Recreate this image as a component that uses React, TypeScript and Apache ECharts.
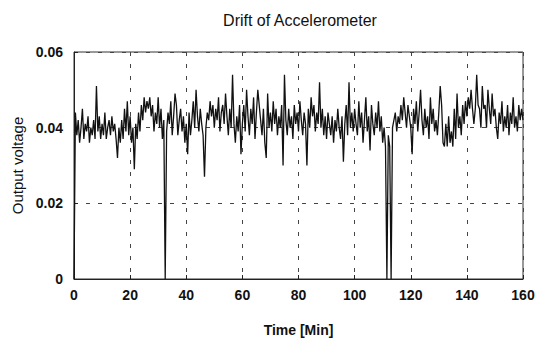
import React, { useEffect, useRef } from "react";
import * as echarts from "echarts";

const title = "Drift of Accelerometer";
const xName = "Time [Min]";
const yName = "Output voltage";
const xTicks = [0, 20, 40, 60, 80, 100, 120, 140, 160];
const yTicks = [0, 0.02, 0.04, 0.06];
const timeStep = 0.5; // minutes between samples

const voltage0to10 = [0, 0.044, 0.038, 0.042, 0.036, 0.040, 0.045, 0.037, 0.041, 0.039, 0.043, 0.036, 0.040, 0.038, 0.042, 0.037, 0.051, 0.039, 0.043, 0.037];
const voltage10to20 = [0.041, 0.038, 0.044, 0.037, 0.040, 0.042, 0.038, 0.043, 0.039, 0.041, 0.037, 0.032, 0.040, 0.036, 0.042, 0.037, 0.045, 0.039, 0.047, 0.038];
const voltage20to30 = [0.043, 0.036, 0.040, 0.029, 0.041, 0.037, 0.044, 0.039, 0.046, 0.042, 0.048, 0.044, 0.047, 0.045, 0.048, 0.043, 0.046, 0.039, 0.044, 0.041];
const voltage30to40 = [0.048, 0.040, 0.045, 0.037, 0.042, 0, 0.039, 0.044, 0.041, 0.047, 0.038, 0.043, 0.049, 0.046, 0.038, 0.042, 0.045, 0.039, 0.043, 0.036];
const voltage40to50 = [0.041, 0.033, 0.044, 0.038, 0.042, 0.047, 0.040, 0.050, 0.043, 0.039, 0.045, 0.041, 0.038, 0.027, 0.040, 0.044, 0.042, 0.047, 0.043, 0.046];
const voltage50to60 = [0.040, 0.045, 0.042, 0.048, 0.039, 0.044, 0.046, 0.041, 0.049, 0.043, 0.038, 0.045, 0.040, 0.054, 0.041, 0.036, 0.043, 0.039, 0.046, 0.033];
const voltage60to70 = [0.041, 0.046, 0.039, 0.050, 0.043, 0.038, 0.045, 0.041, 0.048, 0.037, 0.044, 0.050, 0.046, 0.042, 0.038, 0.045, 0.036, 0.032, 0.049, 0.040];
const voltage70to80 = [0.044, 0.039, 0.047, 0.041, 0.045, 0.038, 0.043, 0.040, 0.046, 0.030, 0.054, 0.042, 0.038, 0.045, 0.040, 0.043, 0.037, 0.046, 0.041, 0.044];
const voltage80to90 = [0.039, 0.047, 0.042, 0.038, 0.044, 0.041, 0.030, 0.045, 0.040, 0.048, 0.043, 0.046, 0.039, 0.044, 0.041, 0.052, 0.040, 0.045, 0.038, 0.043];
const voltage90to100 = [0.037, 0.044, 0.041, 0.038, 0.043, 0.036, 0.042, 0.039, 0.045, 0.040, 0.037, 0.043, 0.031, 0.041, 0.046, 0.038, 0.052, 0.040, 0.044, 0.039];
const voltage100to110 = [0.045, 0.041, 0.038, 0.047, 0.040, 0.044, 0.036, 0.042, 0.048, 0.039, 0.043, 0.034, 0.046, 0.041, 0.038, 0.044, 0.040, 0.047, 0.039, 0.043];
const voltage110to120 = [0.036, 0.040, 0.035, 0, 0.038, 0.035, 0, 0.040, 0.042, 0.044, 0.039, 0.043, 0.041, 0.046, 0.042, 0.048, 0.044, 0.040, 0.046, 0.043];
const voltage120to130 = [0.040, 0.033, 0.045, 0.041, 0.047, 0.039, 0.044, 0.050, 0.042, 0.038, 0.045, 0.040, 0.043, 0.037, 0.048, 0.041, 0.045, 0.039, 0.042, 0.038];
const voltage130to140 = [0.044, 0.051, 0.046, 0.036, 0.035, 0.041, 0.035, 0.043, 0.036, 0.039, 0.035, 0.045, 0.037, 0.049, 0.040, 0.043, 0.038, 0.046, 0.041, 0.047];
const voltage140to150 = [0.043, 0.048, 0.045, 0.050, 0.045, 0.041, 0.045, 0.054, 0.046, 0.045, 0.040, 0.051, 0.045, 0.046, 0.040, 0.050, 0.045, 0.041, 0.049, 0.043];
const voltage150to160 = [0.045, 0.040, 0.037, 0.044, 0.041, 0.047, 0.039, 0.043, 0.040, 0.046, 0.038, 0.044, 0.041, 0.048, 0.040, 0.043, 0.039, 0.046, 0.042, 0.045, 0.042];

const voltage = [
  ...voltage0to10, ...voltage10to20, ...voltage20to30, ...voltage30to40,
  ...voltage40to50, ...voltage50to60, ...voltage60to70, ...voltage70to80,
  ...voltage80to90, ...voltage90to100, ...voltage100to110, ...voltage110to120,
  ...voltage120to130, ...voltage130to140, ...voltage140to150, ...voltage150to160,
];

export default function App() {
  const ref = useRef<HTMLDivElement>(null);
  useEffect(() => {
    if (!ref.current) return;
    const chart = echarts.init(ref.current, undefined, { renderer: "svg" });
    const data = voltage.map((v, i) => [i * timeStep, v]);
    const font = "Liberation Sans, Arial, sans-serif";
    const gridLine = { show: true, lineStyle: { color: "#444", width: 1, type: [4, 8] as any } };
    chart.setOption({
      animation: false,
      backgroundColor: "#fff",
      title: {
        text: title,
        left: 295,
        top: 7,
        textAlign: "center",
        textStyle: { fontFamily: font, fontSize: 16, fontWeight: "normal", color: "#111" },
      },
      grid: {
        left: 74, right: 26, top: 52, bottom: 59,
        show: true, borderColor: "#333", borderWidth: 1, backgroundColor: "transparent",
      },
      xAxis: {
        type: "value",
        min: xTicks[0],
        max: xTicks[xTicks.length - 1],
        interval: 20,
        name: xName,
        nameLocation: "middle",
        nameGap: 44,
        nameTextStyle: { fontFamily: font, fontSize: 14, fontWeight: "bold", color: "#111" },
        axisLine: { show: true, onZero: false, lineStyle: { color: "#222" } },
        axisTick: { show: true, inside: true, length: 4, lineStyle: { color: "#222" } },
        axisLabel: { fontFamily: font, fontSize: 14, fontWeight: "bold", color: "#111", margin: 9 },
        splitLine: gridLine,
      },
      yAxis: {
        type: "value",
        min: yTicks[0],
        max: yTicks[yTicks.length - 1],
        interval: 0.02,
        name: yName,
        nameLocation: "middle",
        nameGap: 47,
        nameTextStyle: { fontFamily: font, fontSize: 15, fontWeight: "normal", color: "#111" },
        axisLine: { show: true, lineStyle: { color: "#222" } },
        axisTick: { show: true, inside: true, length: 4, lineStyle: { color: "#222" } },
        axisLabel: {
          fontFamily: font, fontSize: 14, fontWeight: "bold", color: "#111", margin: 11,
          formatter: (v: number) => (v === 0 ? "0" : v.toFixed(2)),
        },
        splitLine: gridLine,
      },
      series: [
        {
          type: "line",
          data,
          showSymbol: false,
          lineStyle: { color: "#111", width: 1.3 },
        },
      ],
    });
    return () => chart.dispose();
  }, []);
  return (
    <div
      ref={ref}
      style={{ position: "absolute", left: 0, top: 0, width: 549, height: 342 }}
    />
  );
}
